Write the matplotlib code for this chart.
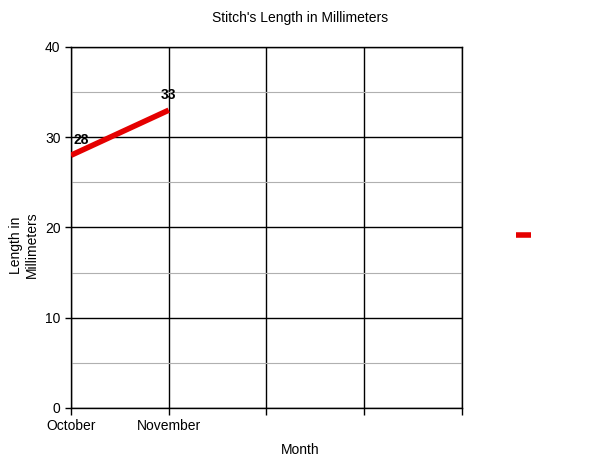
import matplotlib
matplotlib.use("Agg")
import matplotlib.pyplot as plt
from matplotlib.ticker import MultipleLocator

plt.rcParams['font.family'] = ['Liberation Sans', 'DejaVu Sans']

months = ["October", "November", "", "", ""]
lengths = [28, 33]

fig = plt.figure(figsize=(6, 4.63), dpi=100)
ax = fig.add_axes([0.1183, 0.1188, 0.6517, 0.7797])

x = list(range(len(lengths)))
line, = ax.plot(x, lengths, color="#e50000", linewidth=4, solid_capstyle="butt", zorder=3)

for i, v in enumerate(lengths):
    ax.annotate(str(v), (i, v), xytext=(2 if i == 0 else 0, 6), textcoords="offset points",
                ha="left" if i == 0 else "center", va="bottom",
                fontsize=10, fontweight="bold", color="black")

ax.set_xlim(0, len(months) - 1)
ax.set_ylim(0, 40)
ax.set_xticks(range(len(months)))
ax.set_xticklabels(months, fontsize=10)
ax.yaxis.set_major_locator(MultipleLocator(10))
ax.yaxis.set_minor_locator(MultipleLocator(5))
ax.tick_params(axis="y", labelsize=10, length=4, width=1, color="black")
ax.tick_params(axis="y", which="minor", length=0)
ax.tick_params(axis="x", length=5, width=1, color="black", pad=3)

ax.grid(which="major", color="black", linewidth=1)
ax.grid(which="minor", axis="y", color="#b0b0b0", linewidth=0.8)
ax.set_axisbelow(True)
for s in ax.spines.values():
    s.set_color("black")
    s.set_linewidth(1)

fig.text(0.5, 1 - 18 / 463, "Stitch's Length in Millimeters", fontsize=10,
         ha="center", va="center")
fig.text(0.5, 1 - 450 / 463, "Month", fontsize=10, ha="center", va="center")
fig.text(24 / 600, 1 - 245 / 463, "Length in\nMillimeters", fontsize=10,
         rotation=90, ha="center", va="center", multialignment="center")

ax.legend(handles=[line], labels=[" "], frameon=False, handlelength=1.1,
          loc="center left", bbox_to_anchor=(1.105, 0.478))

fig.savefig("out.png", dpi=100)
